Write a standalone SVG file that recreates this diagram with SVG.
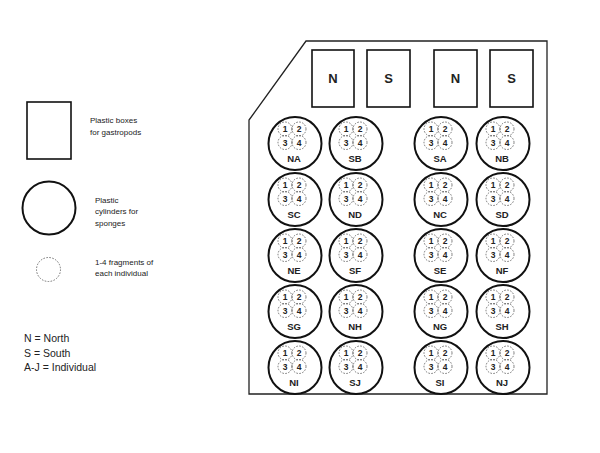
<svg xmlns="http://www.w3.org/2000/svg" width="600" height="453" viewBox="0 0 600 453">
<style>
  text { font-family: "Liberation Sans", Arial, sans-serif; fill: #222; }
  .frame { fill: #fff; stroke: #222; stroke-width: 1.3; }
  .box { fill: #fff; stroke: #111; stroke-width: 1.6; }
  .cyl { fill: #fff; stroke: #111; stroke-width: 2; }
  .frag { fill: none; stroke: #555; stroke-width: 0.8; stroke-dasharray: 1.6 1.4; }
  .boxlbl { font-size: 13px; font-weight: bold; text-anchor: middle; }
  .num { font-size: 8.5px; font-weight: bold; text-anchor: middle; }
  .lbl { font-size: 9.5px; font-weight: bold; text-anchor: middle; }
  .leg { font-size: 8px; }
  .key { font-size: 10.5px; }
</style>
<rect width="600" height="453" fill="#fff"/>
<g id="tray">
  <polygon class="frame" points="306,41 547,41 547,394 249,394 249,120"/>
</g>
<g id="box-N1"><rect class="box" x="312" y="50" width="42" height="57"/><text class="boxlbl" x="333" y="83">N</text></g>
<g id="box-S1"><rect class="box" x="367" y="50" width="43" height="57"/><text class="boxlbl" x="388.5" y="83">S</text></g>
<g id="box-N2"><rect class="box" x="434" y="50" width="43" height="57"/><text class="boxlbl" x="455.5" y="83">N</text></g>
<g id="box-S2"><rect class="box" x="490" y="50" width="43" height="57"/><text class="boxlbl" x="511.5" y="83">S</text></g>

<g id="NA" transform="translate(295,143.5)"><circle class="cyl" r="26.5"/><circle class="frag" cx="-10" cy="-14.5" r="7"/><circle class="frag" cx="4" cy="-14.5" r="7"/><circle class="frag" cx="-10" cy="-1" r="7"/><circle class="frag" cx="4" cy="-1" r="7"/><text class="num" x="-10" y="-11.5">1</text><text class="num" x="4" y="-11.5">2</text><text class="num" x="-10" y="2">3</text><text class="num" x="4" y="2">4</text><text class="lbl" x="-1" y="18">NA</text></g>
<g id="SB" transform="translate(356,143.5)"><circle class="cyl" r="26.5"/><circle class="frag" cx="-10" cy="-14.5" r="7"/><circle class="frag" cx="4" cy="-14.5" r="7"/><circle class="frag" cx="-10" cy="-1" r="7"/><circle class="frag" cx="4" cy="-1" r="7"/><text class="num" x="-10" y="-11.5">1</text><text class="num" x="4" y="-11.5">2</text><text class="num" x="-10" y="2">3</text><text class="num" x="4" y="2">4</text><text class="lbl" x="-1" y="18">SB</text></g>
<g id="SA" transform="translate(441,143.5)"><circle class="cyl" r="26.5"/><circle class="frag" cx="-10" cy="-14.5" r="7"/><circle class="frag" cx="4" cy="-14.5" r="7"/><circle class="frag" cx="-10" cy="-1" r="7"/><circle class="frag" cx="4" cy="-1" r="7"/><text class="num" x="-10" y="-11.5">1</text><text class="num" x="4" y="-11.5">2</text><text class="num" x="-10" y="2">3</text><text class="num" x="4" y="2">4</text><text class="lbl" x="-1" y="18">SA</text></g>
<g id="NB" transform="translate(503,143.5)"><circle class="cyl" r="26.5"/><circle class="frag" cx="-10" cy="-14.5" r="7"/><circle class="frag" cx="4" cy="-14.5" r="7"/><circle class="frag" cx="-10" cy="-1" r="7"/><circle class="frag" cx="4" cy="-1" r="7"/><text class="num" x="-10" y="-11.5">1</text><text class="num" x="4" y="-11.5">2</text><text class="num" x="-10" y="2">3</text><text class="num" x="4" y="2">4</text><text class="lbl" x="-1" y="18">NB</text></g>

<g id="SC" transform="translate(295,199.5)"><circle class="cyl" r="26.5"/><circle class="frag" cx="-10" cy="-14.5" r="7"/><circle class="frag" cx="4" cy="-14.5" r="7"/><circle class="frag" cx="-10" cy="-1" r="7"/><circle class="frag" cx="4" cy="-1" r="7"/><text class="num" x="-10" y="-11.5">1</text><text class="num" x="4" y="-11.5">2</text><text class="num" x="-10" y="2">3</text><text class="num" x="4" y="2">4</text><text class="lbl" x="-1" y="18">SC</text></g>
<g id="ND" transform="translate(356,199.5)"><circle class="cyl" r="26.5"/><circle class="frag" cx="-10" cy="-14.5" r="7"/><circle class="frag" cx="4" cy="-14.5" r="7"/><circle class="frag" cx="-10" cy="-1" r="7"/><circle class="frag" cx="4" cy="-1" r="7"/><text class="num" x="-10" y="-11.5">1</text><text class="num" x="4" y="-11.5">2</text><text class="num" x="-10" y="2">3</text><text class="num" x="4" y="2">4</text><text class="lbl" x="-1" y="18">ND</text></g>
<g id="NC" transform="translate(441,199.5)"><circle class="cyl" r="26.5"/><circle class="frag" cx="-10" cy="-14.5" r="7"/><circle class="frag" cx="4" cy="-14.5" r="7"/><circle class="frag" cx="-10" cy="-1" r="7"/><circle class="frag" cx="4" cy="-1" r="7"/><text class="num" x="-10" y="-11.5">1</text><text class="num" x="4" y="-11.5">2</text><text class="num" x="-10" y="2">3</text><text class="num" x="4" y="2">4</text><text class="lbl" x="-1" y="18">NC</text></g>
<g id="SD" transform="translate(503,199.5)"><circle class="cyl" r="26.5"/><circle class="frag" cx="-10" cy="-14.5" r="7"/><circle class="frag" cx="4" cy="-14.5" r="7"/><circle class="frag" cx="-10" cy="-1" r="7"/><circle class="frag" cx="4" cy="-1" r="7"/><text class="num" x="-10" y="-11.5">1</text><text class="num" x="4" y="-11.5">2</text><text class="num" x="-10" y="2">3</text><text class="num" x="4" y="2">4</text><text class="lbl" x="-1" y="18">SD</text></g>

<g id="NE" transform="translate(295,255.5)"><circle class="cyl" r="26.5"/><circle class="frag" cx="-10" cy="-14.5" r="7"/><circle class="frag" cx="4" cy="-14.5" r="7"/><circle class="frag" cx="-10" cy="-1" r="7"/><circle class="frag" cx="4" cy="-1" r="7"/><text class="num" x="-10" y="-11.5">1</text><text class="num" x="4" y="-11.5">2</text><text class="num" x="-10" y="2">3</text><text class="num" x="4" y="2">4</text><text class="lbl" x="-1" y="18">NE</text></g>
<g id="SF" transform="translate(356,255.5)"><circle class="cyl" r="26.5"/><circle class="frag" cx="-10" cy="-14.5" r="7"/><circle class="frag" cx="4" cy="-14.5" r="7"/><circle class="frag" cx="-10" cy="-1" r="7"/><circle class="frag" cx="4" cy="-1" r="7"/><text class="num" x="-10" y="-11.5">1</text><text class="num" x="4" y="-11.5">2</text><text class="num" x="-10" y="2">3</text><text class="num" x="4" y="2">4</text><text class="lbl" x="-1" y="18">SF</text></g>
<g id="SE" transform="translate(441,255.5)"><circle class="cyl" r="26.5"/><circle class="frag" cx="-10" cy="-14.5" r="7"/><circle class="frag" cx="4" cy="-14.5" r="7"/><circle class="frag" cx="-10" cy="-1" r="7"/><circle class="frag" cx="4" cy="-1" r="7"/><text class="num" x="-10" y="-11.5">1</text><text class="num" x="4" y="-11.5">2</text><text class="num" x="-10" y="2">3</text><text class="num" x="4" y="2">4</text><text class="lbl" x="-1" y="18">SE</text></g>
<g id="NF" transform="translate(503,255.5)"><circle class="cyl" r="26.5"/><circle class="frag" cx="-10" cy="-14.5" r="7"/><circle class="frag" cx="4" cy="-14.5" r="7"/><circle class="frag" cx="-10" cy="-1" r="7"/><circle class="frag" cx="4" cy="-1" r="7"/><text class="num" x="-10" y="-11.5">1</text><text class="num" x="4" y="-11.5">2</text><text class="num" x="-10" y="2">3</text><text class="num" x="4" y="2">4</text><text class="lbl" x="-1" y="18">NF</text></g>

<g id="SG" transform="translate(295,311.5)"><circle class="cyl" r="26.5"/><circle class="frag" cx="-10" cy="-14.5" r="7"/><circle class="frag" cx="4" cy="-14.5" r="7"/><circle class="frag" cx="-10" cy="-1" r="7"/><circle class="frag" cx="4" cy="-1" r="7"/><text class="num" x="-10" y="-11.5">1</text><text class="num" x="4" y="-11.5">2</text><text class="num" x="-10" y="2">3</text><text class="num" x="4" y="2">4</text><text class="lbl" x="-1" y="18">SG</text></g>
<g id="NH" transform="translate(356,311.5)"><circle class="cyl" r="26.5"/><circle class="frag" cx="-10" cy="-14.5" r="7"/><circle class="frag" cx="4" cy="-14.5" r="7"/><circle class="frag" cx="-10" cy="-1" r="7"/><circle class="frag" cx="4" cy="-1" r="7"/><text class="num" x="-10" y="-11.5">1</text><text class="num" x="4" y="-11.5">2</text><text class="num" x="-10" y="2">3</text><text class="num" x="4" y="2">4</text><text class="lbl" x="-1" y="18">NH</text></g>
<g id="NG" transform="translate(441,311.5)"><circle class="cyl" r="26.5"/><circle class="frag" cx="-10" cy="-14.5" r="7"/><circle class="frag" cx="4" cy="-14.5" r="7"/><circle class="frag" cx="-10" cy="-1" r="7"/><circle class="frag" cx="4" cy="-1" r="7"/><text class="num" x="-10" y="-11.5">1</text><text class="num" x="4" y="-11.5">2</text><text class="num" x="-10" y="2">3</text><text class="num" x="4" y="2">4</text><text class="lbl" x="-1" y="18">NG</text></g>
<g id="SH" transform="translate(503,311.5)"><circle class="cyl" r="26.5"/><circle class="frag" cx="-10" cy="-14.5" r="7"/><circle class="frag" cx="4" cy="-14.5" r="7"/><circle class="frag" cx="-10" cy="-1" r="7"/><circle class="frag" cx="4" cy="-1" r="7"/><text class="num" x="-10" y="-11.5">1</text><text class="num" x="4" y="-11.5">2</text><text class="num" x="-10" y="2">3</text><text class="num" x="4" y="2">4</text><text class="lbl" x="-1" y="18">SH</text></g>

<g id="NI" transform="translate(295,367.5)"><circle class="cyl" r="26.5"/><circle class="frag" cx="-10" cy="-14.5" r="7"/><circle class="frag" cx="4" cy="-14.5" r="7"/><circle class="frag" cx="-10" cy="-1" r="7"/><circle class="frag" cx="4" cy="-1" r="7"/><text class="num" x="-10" y="-11.5">1</text><text class="num" x="4" y="-11.5">2</text><text class="num" x="-10" y="2">3</text><text class="num" x="4" y="2">4</text><text class="lbl" x="-1" y="18">NI</text></g>
<g id="SJ" transform="translate(356,367.5)"><circle class="cyl" r="26.5"/><circle class="frag" cx="-10" cy="-14.5" r="7"/><circle class="frag" cx="4" cy="-14.5" r="7"/><circle class="frag" cx="-10" cy="-1" r="7"/><circle class="frag" cx="4" cy="-1" r="7"/><text class="num" x="-10" y="-11.5">1</text><text class="num" x="4" y="-11.5">2</text><text class="num" x="-10" y="2">3</text><text class="num" x="4" y="2">4</text><text class="lbl" x="-1" y="18">SJ</text></g>
<g id="SI" transform="translate(441,367.5)"><circle class="cyl" r="26.5"/><circle class="frag" cx="-10" cy="-14.5" r="7"/><circle class="frag" cx="4" cy="-14.5" r="7"/><circle class="frag" cx="-10" cy="-1" r="7"/><circle class="frag" cx="4" cy="-1" r="7"/><text class="num" x="-10" y="-11.5">1</text><text class="num" x="4" y="-11.5">2</text><text class="num" x="-10" y="2">3</text><text class="num" x="4" y="2">4</text><text class="lbl" x="-1" y="18">SI</text></g>
<g id="NJ" transform="translate(503,367.5)"><circle class="cyl" r="26.5"/><circle class="frag" cx="-10" cy="-14.5" r="7"/><circle class="frag" cx="4" cy="-14.5" r="7"/><circle class="frag" cx="-10" cy="-1" r="7"/><circle class="frag" cx="4" cy="-1" r="7"/><text class="num" x="-10" y="-11.5">1</text><text class="num" x="4" y="-11.5">2</text><text class="num" x="-10" y="2">3</text><text class="num" x="4" y="2">4</text><text class="lbl" x="-1" y="18">NJ</text></g>

<g id="legend-box"><rect class="box" x="27" y="102" width="44" height="57"/><text class="leg" x="90" y="123">Plastic boxes</text><text class="leg" x="90" y="134.5">for gastropods</text></g>
<g id="legend-cylinder"><circle class="cyl" cx="49" cy="208" r="26.5"/><text class="leg" x="95" y="202.5">Plastic</text><text class="leg" x="95" y="214">cylinders for</text><text class="leg" x="95" y="225.5">sponges</text></g>
<g id="legend-fragment"><circle class="frag" cx="48.5" cy="269.5" r="12"/><text class="leg" x="95" y="265">1-4 fragments of</text><text class="leg" x="95" y="276">each individual</text></g>
<g id="legend-key"><text class="key" x="24" y="342">N = North</text><text class="key" x="24" y="356.5">S = South</text><text class="key" x="24" y="370.5">A-J = Individual</text></g>
<g id="connectors"/>
</svg>
